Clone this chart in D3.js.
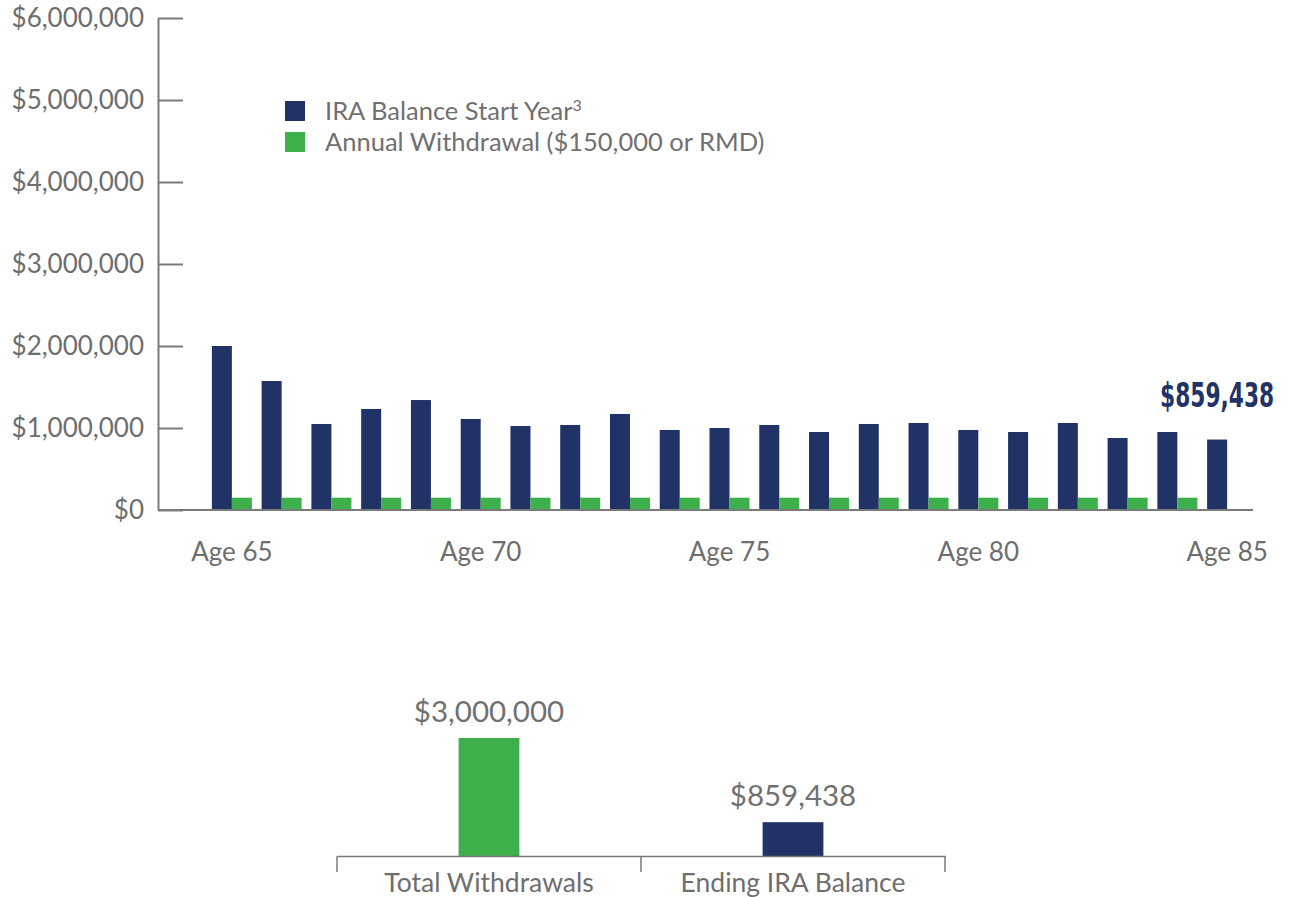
<!DOCTYPE html>
<html>
<head>
<meta charset="utf-8">
<script src="https://cdn.jsdelivr.net/npm/d3@7"></script>
<style>
  body { margin: 0; background: #fff; }
  text { font-family: Lato, "Open Sans", sans-serif; font-weight: 400; fill: #6e6e6e; }
</style>
</head>
<body>
<div id="chart"></div>
<script>
// IRA balance vs. annual withdrawals, age 65 - 85

const ages = [65, 66, 67, 68, 69, 70, 71, 72, 73, 74, 75, 76, 77, 78, 79, 80, 81, 82, 83, 84, 85];
const tickAges = [65, 70, 75, 80, 85];
const balance = [2000000, 1573000, 1049000, 1232000, 1341000, 1110000, 1024000, 1037000, 1171000, 976000,
                 1000000, 1037000, 951000, 1049000, 1061000, 976000, 951000, 1061000, 878000, 951000, 859438];
const withdrawal = [150000, 150000, 150000, 150000, 150000, 150000, 150000, 150000, 150000, 150000,
                    150000, 150000, 150000, 150000, 150000, 150000, 150000, 150000, 150000, 150000];
const yTicks = [0, 1000000, 2000000, 3000000, 4000000, 5000000, 6000000];
const seriesNames = ["IRA Balance Start Year", "Annual Withdrawal ($150,000 or RMD)"];

const summaryCategories = ["Total Withdrawals", "Ending IRA Balance"];
const summaryValues = [3000000, 859438];

const navy = "#213366";
const green = "#3db04b";
const axisGrey = "#7a7a7a";
const textGrey = "#707070";

const width = 1290;
const height = 897;

const svg = d3.select("#chart")
    .append("svg")
    .attr("width", width)
    .attr("height", height);

const money = d3.format("$,");

// ---- top chart ----
const x = d3.scaleBand()
    .domain(ages)
    .range([207, 1252])
    .paddingInner(0.196)
    .paddingOuter(0.098);

const xSub = d3.scaleBand()
    .domain(["balance", "withdrawal"])
    .range([0, x.bandwidth()]);

const y = d3.scaleLinear()
    .domain([0, 6000000])
    .range([510, 18]);

const yAxis = d3.axisLeft(y)
    .tickValues(yTicks)
    .tickFormat(money)
    .tickSizeInner(-25)
    .tickSizeOuter(0)
    .tickPadding(14);

const gy = svg.append("g")
    .attr("transform", "translate(158,0)")
    .call(yAxis);
gy.selectAll("path, line").attr("stroke", axisGrey).attr("stroke-width", 2);
gy.selectAll("text")
    .attr("fill", textGrey)
    .style("font-family", "Lato, sans-serif")
    .style("font-size", "26px");

svg.selectAll("rect.balance")
    .data(balance)
    .join("rect")
    .attr("class", "balance")
    .attr("x", (d, i) => x(ages[i]) + xSub("balance"))
    .attr("y", d => y(d))
    .attr("width", xSub.bandwidth())
    .attr("height", d => y(0) - y(d))
    .attr("fill", navy);

svg.selectAll("rect.withdrawal")
    .data(withdrawal)
    .join("rect")
    .attr("class", "withdrawal")
    .attr("x", (d, i) => x(ages[i]) + xSub("withdrawal"))
    .attr("y", d => y(d))
    .attr("width", xSub.bandwidth())
    .attr("height", d => y(0) - y(d))
    .attr("fill", green);

// baseline runs from the y axis to past the last bar
svg.append("line")
    .attr("x1", 158)
    .attr("x2", 1253)
    .attr("y1", y(0))
    .attr("y2", y(0))
    .attr("stroke", axisGrey)
    .attr("stroke-width", 2);

const xAxis = d3.axisBottom(x)
    .tickValues(tickAges)
    .tickFormat(d => "Age " + d)
    .tickSize(0)
    .tickPadding(33);

const gx = svg.append("g")
    .attr("transform", `translate(0,${y(0)})`)
    .call(xAxis);
gx.select(".domain").remove();
gx.selectAll("text")
    .attr("fill", textGrey)
    .style("font-family", "Lato, sans-serif")
    .style("font-size", "26px");

// ending balance callout over the last bar
const lastIdx = balance.length - 1;
svg.append("text")
    .attr("x", x(ages[lastIdx]) + xSub("balance") + xSub.bandwidth() / 2)
    .attr("y", y(balance[lastIdx]) - 33)
    .attr("text-anchor", "middle")
    .attr("textLength", 114)
    .attr("lengthAdjust", "spacingAndGlyphs")
    .style("font-family", "'DejaVu Sans Condensed', 'DejaVu Sans', sans-serif")
    .style("font-weight", "bold")
    .style("font-size", "33px")
    .style("fill", navy)
    .text(money(balance[lastIdx]));

// legend
const legend = svg.append("g").attr("transform", "translate(285,101)");
const legendItems = legend.selectAll("g")
    .data(seriesNames)
    .join("g")
    .attr("transform", (d, i) => `translate(0,${i * 31})`);
legendItems.append("rect")
    .attr("width", 20)
    .attr("height", 20)
    .attr("fill", (d, i) => i === 0 ? navy : green);
const legendText = legendItems.append("text")
    .attr("x", 40)
    .attr("y", 19)
    .style("font-size", "25.5px")
    .style("fill", textGrey)
    .text(d => d);
legendText.filter((d, i) => i === 0)
    .append("tspan")
    .attr("dy", -9)
    .style("font-size", "16px")
    .text("3");

// ---- bottom summary chart ----
const xSum = d3.scaleBand()
    .domain(summaryCategories)
    .range([337, 945])
    .paddingInner(0.8)
    .paddingOuter(0.4);

const ySum = d3.scaleLinear()
    .domain([0, 3000000])
    .range([856, 738]);

svg.selectAll("rect.summary")
    .data(summaryValues)
    .join("rect")
    .attr("class", "summary")
    .attr("x", (d, i) => xSum(summaryCategories[i]))
    .attr("y", d => ySum(d))
    .attr("width", xSum.bandwidth())
    .attr("height", d => ySum(0) - ySum(d))
    .attr("fill", (d, i) => i === 0 ? green : navy);

svg.selectAll("text.summary-value")
    .data(summaryValues)
    .join("text")
    .attr("class", "summary-value")
    .attr("x", (d, i) => xSum(summaryCategories[i]) + xSum.bandwidth() / 2)
    .attr("y", d => ySum(d) - 16)
    .attr("text-anchor", "middle")
    .style("font-size", "29.5px")
    .style("fill", textGrey)
    .text(d => money(d));

const sumAxis = d3.axisBottom(xSum)
    .tickSize(0)
    .tickPadding(17);
const gs = svg.append("g")
    .attr("transform", `translate(0,${ySum(0)})`)
    .call(sumAxis);
gs.select(".domain").attr("stroke", axisGrey).attr("stroke-width", 1.5);
gs.selectAll("text")
    .attr("fill", textGrey)
    .style("font-family", "Lato, sans-serif")
    .style("font-size", "26.5px");

// separators at the band edges
const step = xSum.step();
const dividers = [xSum.range()[0]].concat(summaryCategories.map(c => xSum(c) + xSum.bandwidth() / 2 + step / 2));
gs.selectAll("line.divider")
    .data(dividers)
    .join("line")
    .attr("class", "divider")
    .attr("x1", d => d)
    .attr("x2", d => d)
    .attr("y1", 0)
    .attr("y2", 16)
    .attr("stroke", axisGrey)
    .attr("stroke-width", 1.5);
</script>
</body>
</html>
